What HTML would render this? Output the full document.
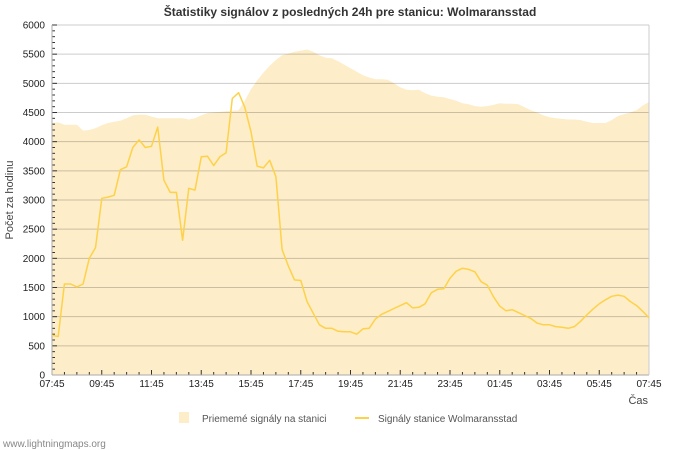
<!DOCTYPE html>
<html><head><meta charset="utf-8"><style>
body{margin:0;background:#fff;font-family:"Liberation Sans","DejaVu Sans",sans-serif;}
svg{display:block}
</style></head><body>
<svg id="chart" width="700" height="450" xmlns="http://www.w3.org/2000/svg">
<text x="350" y="16" text-anchor="middle" font-size="12" font-weight="bold" fill="#333">Štatistiky signálov z posledných 24h pre stanicu: Wolmaransstad</text>
<text transform="translate(13,200) rotate(-90)" text-anchor="middle" font-size="11" fill="#444">Počet za hodinu</text>
<text x="648" y="404" text-anchor="end" font-size="11" fill="#444">Čas</text>
<g>
<rect x="179" y="412" width="10" height="11" fill="#fdedc8"/>
<text x="202" y="422" font-size="10" fill="#555">Priememé signály na stanici</text>
<line x1="355" y1="418" x2="369" y2="418" stroke="#fdd24a" stroke-width="2"/>
<text x="378" y="422" font-size="10" fill="#555">Signály stanice Wolmaransstad</text>
</g>
<text x="3" y="447" font-size="10" fill="#888">www.lightningmaps.org</text>
<g id="plot"></g>
</svg>
<script>
const yTicks=[0,500,1000,1500,2000,2500,3000,3500,4000,4500,5000,5500,6000];
const xTickLabels=["07:45","09:45","11:45","13:45","15:45","17:45","19:45","21:45","23:45","01:45","03:45","05:45","07:45"];
const averageSignals=[4320,4330,4290,4290,4290,4190,4200,4230,4280,4320,4340,4360,4400,4450,4460,4460,4430,4400,4400,4400,4400,4400,4380,4400,4450,4490,4500,4510,4520,4530,4540,4700,4900,5050,5180,5300,5400,5480,5510,5540,5560,5580,5540,5480,5440,5430,5380,5320,5260,5200,5140,5100,5070,5070,5060,5000,4930,4890,4880,4890,4830,4790,4770,4760,4730,4700,4660,4640,4610,4600,4610,4630,4660,4650,4650,4640,4590,4540,4500,4450,4420,4400,4390,4380,4380,4370,4340,4320,4320,4320,4370,4440,4470,4500,4540,4620,4680];
const stationSignals=[680,660,1560,1560,1510,1560,2000,2180,3030,3050,3080,3520,3570,3900,4030,3900,3920,4250,3340,3130,3130,2310,3200,3170,3740,3750,3590,3740,3810,4740,4840,4590,4170,3580,3550,3680,3400,2150,1870,1630,1620,1260,1060,860,800,800,750,740,740,700,790,800,960,1040,1090,1140,1190,1240,1150,1160,1220,1410,1470,1480,1660,1780,1830,1810,1770,1600,1540,1340,1180,1100,1120,1070,1020,970,890,860,860,830,820,800,830,920,1030,1130,1220,1290,1350,1370,1350,1260,1190,1090,980];
const X0=52,X1=649,Y0=375,Y1=25,YMAX=6000;
const n=stationSignals.length;
function xScale(i){return X0+(X1-X0)*i/(n-1);}
function yScale(v){return Y0-(Y0-Y1)*v/YMAX;}
const NS="http://www.w3.org/2000/svg";
const g=document.getElementById('plot');
function mk(t,a){const e=document.createElementNS(NS,t);for(const k in a)e.setAttribute(k,a[k]);g.appendChild(e);return e;}
// area
let d=`M${xScale(0)},${Y0}`;
averageSignals.forEach((v,i)=>{d+=`L${xScale(i).toFixed(1)},${yScale(v).toFixed(1)}`;});
d+=`L${xScale(averageSignals.length-1)},${Y0}Z`;
const area=mk('path',{d:d,fill:'#fdedc8'});


// gridlines + y labels
yTicks.forEach(v=>{
 const y=yScale(v);
 if(v>0){const l=mk('line',{x1:X0,x2:X1,y1:y,y2:y,stroke:'rgba(0,0,0,0.2)','stroke-width':1});
 
 }
 const t=mk('text',{x:45,y:y+3.5,'text-anchor':'end','font-size':10,fill:'#222'});
 t.textContent=v;
 
 
});
// minor y ticks
for(let v=0;v<=YMAX;v+=100){const y=yScale(v);mk('line',{x1:X0,x2:X0+(v%500==0?5:3),y1:y,y2:y,stroke:'#333','stroke-width':1});}
// x ticks and labels
xTickLabels.forEach((s,k)=>{
 const x=X0+(X1-X0)*k/(xTickLabels.length-1);
 const t=mk('text',{x:x,y:387,'text-anchor':'middle','font-size':10,fill:'#222'});
 t.textContent=s;
 
 
});
for(let m=0;m<=48;m++){const x=X0+(X1-X0)*m/48;mk('line',{x1:x,x2:x,y1:Y0,y2:Y0-(m%4==0?5:3),stroke:'#333','stroke-width':1});}
// axes
const ya=mk('line',{x1:X0,x2:X0,y1:Y1,y2:Y0,stroke:'#aaa','stroke-width':1});


const xa=mk('line',{x1:X0,x2:X1,y1:Y0,y2:Y0,stroke:'#aaa','stroke-width':1});


mk('line',{x1:X1,x2:X1,y1:Y1,y2:Y0,stroke:'#ccc','stroke-width':1});
// station line
const pts=stationSignals.map((v,i)=>xScale(i).toFixed(1)+','+yScale(v).toFixed(1)).join(' ');
const pl=mk('polyline',{points:pts,fill:'none',stroke:'#fdd24a','stroke-width':1.5,'stroke-linejoin':'round'});


</script>
</body></html>
